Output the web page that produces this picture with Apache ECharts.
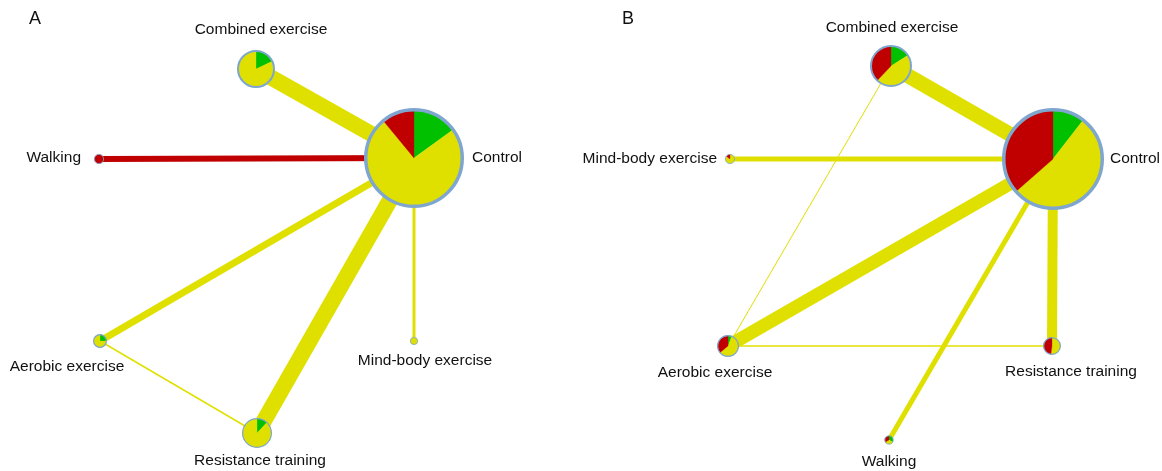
<!DOCTYPE html>
<html><head><meta charset="utf-8">
<script src="https://cdn.jsdelivr.net/npm/echarts@6/dist/echarts.min.js"></script>
<style>html,body{margin:0;padding:0;background:#fff}#c{width:1162px;height:471px}</style>
</head><body><div id="c"></div>
<script>
// ---------- Panel A data ----------
const nodesA = ['Control','Combined exercise','Walking','Aerobic exercise','Resistance training','Mind-body exercise'];
const xA = [414, 256, 99, 100, 257, 414];
const yA = [158, 69, 159, 341, 433, 341];
const sizeA = [50, 19, 5, 7, 15, 4];
const lowA = [0.15, 0.18, 0, 0.25, 0.12, 0];
const unclearA = [0.74, 0.82, 0, 0.75, 0.88, 1];
const highA = [0.11, 0, 1, 0, 0, 0];
const edgeFromA = [1, 2, 3, 4, 5, 3];
const edgeToA = [0, 0, 0, 0, 0, 4];
const edgeWidthA = [16, 6, 7, 16, 3, 1.5];
const edgeRiskA = ['unclear', 'high', 'unclear', 'unclear', 'unclear', 'unclear'];

// ---------- Panel B data ----------
const nodesB = ['Control','Combined exercise','Mind-body exercise','Aerobic exercise','Resistance training','Walking'];
const xB = [472, 310, 149, 147, 471, 308];
const yB = [159, 66, 159, 346, 346, 440];
const sizeB = [51, 21, 5, 11, 9, 4.5];
const lowB = [0.105, 0.16, 0, 0.06, 0, 0.33];
const unclearB = [0.53, 0.46, 0.85, 0.58, 0.52, 0.34];
const highB = [0.365, 0.38, 0.15, 0.36, 0.48, 0.33];
const edgeFromB = [1, 2, 3, 4, 5, 1, 3];
const edgeToB = [0, 0, 0, 0, 0, 3, 4];
const edgeWidthB = [15, 5, 13, 10, 5, 1, 1.5];
const edgeRiskB = ['unclear','unclear','unclear','unclear','unclear','unclear','unclear'];

// ---------- label layout (offsets from node centre) ----------
const labelLayoutA = [[58,0,'left'],[5,-39,'center'],[-18,-1,'right'],[-33,26,'center'],[3,28,'center'],[11,20,'center']];
const labelLayoutB = [[57,0,'left'],[1,-38,'center'],[-13,0,'right'],[-13,27,'center'],[19,26,'center'],[0,22,'center']];

const COLORS = { low: '#00C000', unclear: '#E0E000', high: '#C00000' };
const BORDER = '#7EA6CF';
const FONT = '"Liberation Sans", Arial, sans-serif';

function edgeData(x, y, from, to, w, risk) {
  return from.map((f, i) => [x[f], y[f], x[to[i]], y[to[i]], w[i], ['low','unclear','high'].indexOf(risk[i])]);
}
function nodeData(x, y, size, low, unc, high) {
  return x.map((v, i) => [v, y[i], size[i], low[i], unc[i], high[i], i]);
}

function edgeSeries(gi, data) {
  return {
    type: 'custom', xAxisIndex: gi, yAxisIndex: gi, z: 1, silent: true,
    data: data, encode: { x: [0, 2], y: [1, 3] },
    renderItem: function (params, api) {
      const p1 = api.coord([api.value(0), api.value(1)]);
      const p2 = api.coord([api.value(2), api.value(3)]);
      const c = [COLORS.low, COLORS.unclear, COLORS.high][api.value(5)];
      return { type: 'line', shape: { x1: p1[0], y1: p1[1], x2: p2[0], y2: p2[1] },
        style: { stroke: c, lineWidth: api.value(4), lineCap: 'butt' } };
    }
  };
}

function nodeSeries(gi, data, names, layout) {
  return {
    type: 'custom', xAxisIndex: gi, yAxisIndex: gi, z: 2, silent: true,
    data: data, encode: { x: 0, y: 1 },
    renderItem: function (params, api) {
      const c = api.coord([api.value(0), api.value(1)]);
      const R = api.value(2);
      const bw = R > 30 ? 3.5 : (R > 15 ? 2 : (R >= 7 ? 1.2 : 0.8));
      const r = R - bw / 2;
      const fr = [api.value(3), api.value(4), api.value(5)];
      const cols = [COLORS.low, COLORS.unclear, COLORS.high];
      const children = [];
      let a = -Math.PI / 2;
      for (let k = 0; k < 3; k++) {
        if (fr[k] <= 0) continue;
        const b = a + fr[k] * Math.PI * 2;
        children.push({ type: 'sector', shape: { cx: c[0], cy: c[1], r: r, r0: 0, startAngle: a, endAngle: b, clockwise: true },
          style: { fill: cols[k], stroke: cols[k], lineWidth: 0.3 } });
        a = b;
      }
      children.push({ type: 'circle', shape: { cx: c[0], cy: c[1], r: r }, style: { fill: 'none', stroke: BORDER, lineWidth: bw } });
      const idx = api.value(6);
      const L = layout[idx];
      children.push({ type: 'text', style: { text: names[idx], x: c[0] + L[0], y: c[1] + L[1], align: L[2], verticalAlign: 'middle',
        fill: '#111', fontSize: 15.5, fontFamily: FONT } });
      return { type: 'group', children: children };
    }
  };
}

const chart = echarts.init(document.getElementById('c'), null, { renderer: 'canvas' });
const axisX = (gi) => ({ type: 'value', gridIndex: gi, min: 0, max: 581, show: false });
const axisY = (gi) => ({ type: 'value', gridIndex: gi, min: 0, max: 471, inverse: true, show: false });
chart.setOption({
  animation: false,
  backgroundColor: '#fff',
  grid: [
    { left: 0, top: 0, width: 581, height: 471 },
    { left: 581, top: 0, width: 581, height: 471 }
  ],
  xAxis: [axisX(0), axisX(1)],
  yAxis: [axisY(0), axisY(1)],
  graphic: [
    { type: 'text', left: 29, top: 10, style: { text: 'A', fontSize: 18, fontFamily: FONT, fill: '#111' } },
    { type: 'text', left: 622, top: 10, style: { text: 'B', fontSize: 18, fontFamily: FONT, fill: '#111' } }
  ],
  series: [
    edgeSeries(0, edgeData(xA, yA, edgeFromA, edgeToA, edgeWidthA, edgeRiskA)),
    nodeSeries(0, nodeData(xA, yA, sizeA, lowA, unclearA, highA), nodesA, labelLayoutA),
    edgeSeries(1, edgeData(xB, yB, edgeFromB, edgeToB, edgeWidthB, edgeRiskB)),
    nodeSeries(1, nodeData(xB, yB, sizeB, lowB, unclearB, highB), nodesB, labelLayoutB)
  ]
});
</script></body></html>
